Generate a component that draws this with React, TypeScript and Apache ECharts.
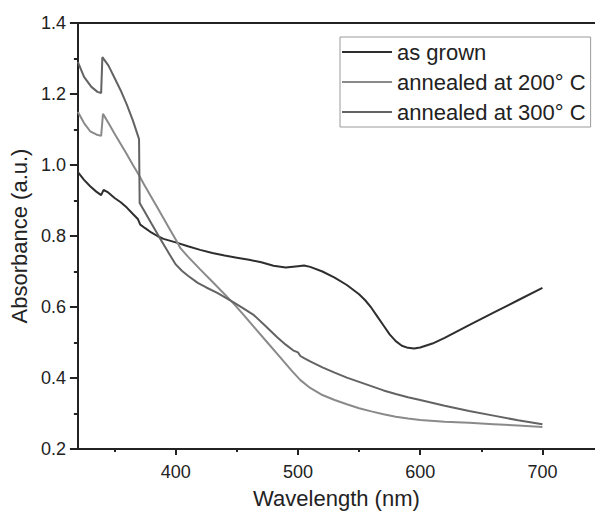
import React, { useEffect, useRef } from "react";
import * as echarts from "echarts";

const seriesNames = ["as grown", "annealed at 200° C", "annealed at 300° C"];

const wlAsGrown = [320, 325, 330, 335, 339, 341, 345, 350, 355, 360, 365, 369, 371, 375, 380, 385, 390, 400, 410, 420, 430, 440, 450, 460, 470, 480, 490, 500, 505, 510, 520, 530, 540, 550, 555, 560, 565, 570, 575, 580, 585, 590, 595, 600, 610, 620, 640, 660, 680, 700];
const absAsGrown = [0.98, 0.958, 0.94, 0.925, 0.915, 0.93, 0.922, 0.907, 0.895, 0.88, 0.862, 0.848, 0.832, 0.822, 0.81, 0.8, 0.792, 0.782, 0.771, 0.761, 0.752, 0.745, 0.739, 0.733, 0.726, 0.716, 0.711, 0.715, 0.717, 0.713, 0.7, 0.683, 0.662, 0.636, 0.619, 0.598, 0.573, 0.548, 0.523, 0.504, 0.491, 0.485, 0.483, 0.486, 0.497, 0.513, 0.549, 0.584, 0.619, 0.654];

const wl200 = [320, 325, 330, 335, 339, 340.5, 345, 350, 355, 360, 365, 370, 374, 380, 385, 390, 395, 400, 404, 410, 420, 430, 440, 447, 455, 465, 475, 485, 495, 502, 510, 520, 530, 540, 550, 560, 570, 580, 590, 600, 620, 640, 660, 680, 700];
const abs200 = [1.149, 1.118, 1.095, 1.086, 1.082, 1.144, 1.118, 1.088, 1.059, 1.03, 1.0, 0.971, 0.946, 0.91, 0.88, 0.85, 0.82, 0.79, 0.765, 0.742, 0.706, 0.671, 0.636, 0.611, 0.58, 0.54, 0.5, 0.46, 0.42, 0.394, 0.372, 0.352, 0.338, 0.326, 0.315, 0.306, 0.298, 0.291, 0.286, 0.282, 0.277, 0.274, 0.27, 0.266, 0.262];

const wl300 = [320, 325, 331, 336, 339, 340, 345, 350, 355, 360, 365, 370, 370.5, 375, 380, 385, 390, 395, 400, 405, 410, 418, 425, 434, 440, 447, 455, 464, 473, 483, 490, 496, 500, 502, 505, 510, 520, 530, 540, 550, 560, 570, 580, 590, 600, 620, 640, 660, 680, 700];
const abs300 = [1.29, 1.248, 1.22, 1.206, 1.203, 1.304, 1.28, 1.245, 1.21, 1.17, 1.125, 1.073, 0.893, 0.866, 0.836, 0.806, 0.777, 0.748, 0.72, 0.702, 0.688, 0.668, 0.655, 0.64, 0.628, 0.614, 0.597, 0.577, 0.548, 0.515, 0.494, 0.478, 0.472, 0.462, 0.456, 0.447, 0.43, 0.415, 0.401, 0.389, 0.377, 0.365, 0.355, 0.346, 0.338, 0.322, 0.307, 0.294, 0.281, 0.27];

const xMajorTicks = [400, 500, 600, 700];
const xMinorTicks = [350, 450, 550, 650];

const FONT = "'Liberation Sans', Arial, sans-serif";
const AX = "#222";

export default function App() {
  const ref = useRef<HTMLDivElement>(null);
  useEffect(() => {
    if (!ref.current) return;
    const chart = echarts.init(ref.current, undefined, { renderer: "svg" });
    const pairs = (xs: number[], ys: number[]) => xs.map((x, i) => [x, ys[i]]);
    chart.setOption({
      animation: false,
      backgroundColor: "#fff",
      textStyle: { fontFamily: FONT },
      grid: { left: 77, top: 23, right: 0, bottom: 66, containLabel: false },
      legend: {
        orient: "vertical",
        left: 340,
        top: 37,
        padding: [4, 5, 4, 2],
        itemGap: 8,
        itemWidth: 50,
        itemHeight: 2,
        icon: "rect",
        borderColor: "#9a9a9a",
        borderWidth: 1,
        data: seriesNames,
        textStyle: { fontSize: 22, lineHeight: 22, color: AX, fontFamily: FONT },
      },
      xAxis: [
        {
          type: "value",
          min: 320,
          max: 743,
          position: "bottom",
          name: "Wavelength (nm)",
          nameLocation: "middle",
          nameGap: 38,
          nameTextStyle: { fontSize: 22, color: AX, fontFamily: FONT },
          axisLine: { show: true, lineStyle: { color: AX, width: 2 } },
          axisTick: { show: true, customValues: xMajorTicks, length: 6, lineStyle: { color: AX, width: 2 } },
          axisLabel: { show: true, customValues: xMajorTicks, fontSize: 18, color: AX, margin: 14, fontFamily: FONT },
          splitLine: { show: false },
        },
        {
          type: "value",
          min: 320,
          max: 743,
          position: "bottom",
          axisLine: { show: false },
          axisTick: { show: true, customValues: xMinorTicks, length: 3, lineStyle: { color: AX, width: 2 } },
          axisLabel: { show: false },
          splitLine: { show: false },
        },
        {
          type: "value",
          min: 320,
          max: 743,
          position: "top",
          axisLine: { show: true, lineStyle: { color: AX, width: 2 } },
          axisTick: { show: false },
          axisLabel: { show: false },
          splitLine: { show: false },
        },
      ],
      yAxis: {
        type: "value",
        min: 0.2,
        max: 1.4,
        interval: 0.2,
        name: "Absorbance (a.u.)",
        nameLocation: "middle",
        nameGap: 44,
        nameTextStyle: { fontSize: 22, color: AX, fontFamily: FONT },
        axisLine: { show: true, lineStyle: { color: AX, width: 2 } },
        axisTick: { show: true, length: 8, lineStyle: { color: AX, width: 2 } },
        minorTick: { show: true, splitNumber: 2, length: 4, lineStyle: { color: AX, width: 2 } },
        axisLabel: { fontSize: 18, color: AX, margin: 12, fontFamily: FONT, formatter: (v: number) => v.toFixed(1) },
        splitLine: { show: false },
        minorSplitLine: { show: false },
      },
      series: [
        { name: seriesNames[0], type: "line", symbol: "none", color: "#2e2e2e", lineStyle: { width: 2, color: "#2e2e2e" }, data: pairs(wlAsGrown, absAsGrown) },
        { name: seriesNames[1], type: "line", symbol: "none", color: "#8a8a8a", lineStyle: { width: 2, color: "#8a8a8a" }, data: pairs(wl200, abs200) },
        { name: seriesNames[2], type: "line", symbol: "none", color: "#636363", lineStyle: { width: 2, color: "#636363" }, data: pairs(wl300, abs300) },
      ],
    });
    return () => chart.dispose();
  }, []);
  return <div ref={ref} style={{ position: "absolute", left: 0, top: 0, width: 595, height: 515 }} />;
}
